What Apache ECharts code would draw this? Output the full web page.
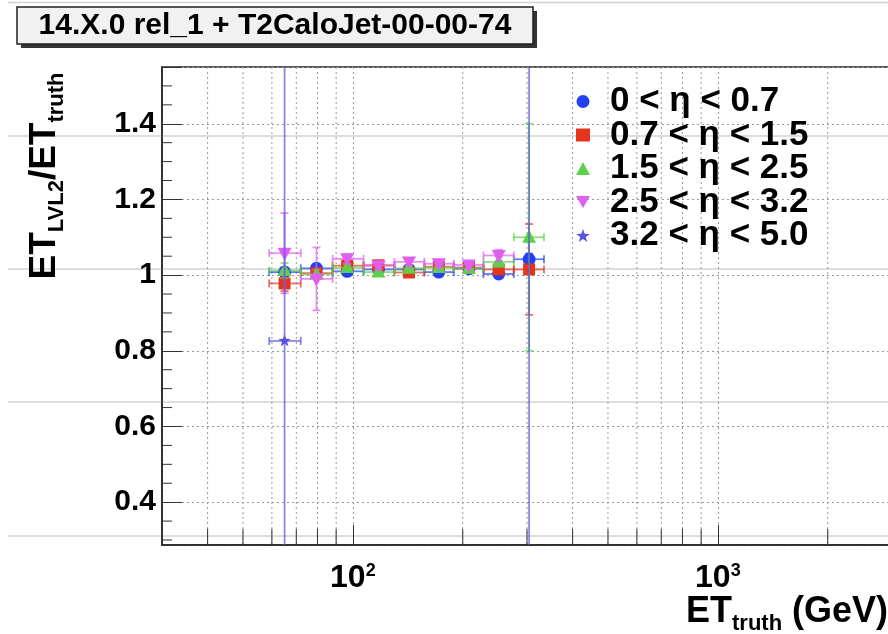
<!DOCTYPE html>
<html>
<head>
<meta charset="utf-8">
<title>ET LVL2 / ET truth</title>
<script src="https://cdn.jsdelivr.net/npm/echarts@6/dist/echarts.min.js"></script>
<style>
html,body{margin:0;padding:0;background:#fff;}
#main{width:888px;height:634px;}
</style>
</head>
<body>
<div id="main"></div>
<script>
// bins of ET_truth (GeV)
var binCenters = [65, 79.5, 96.5, 117.5, 142.5, 172, 208, 251, 304];
var binEdges = [59, 72, 88, 107, 130, 157, 189, 228, 276, 334];

var etaNames = ['0 < η < 0.7', '0.7 < η < 1.5', '1.5 < η < 2.5', '2.5 < η < 3.2', '3.2 < η < 5.0'];

// ET_LVL2 / ET_truth per eta bin, with y error
var eta1Y   = [1.008, 1.018, 1.010, 1.015, 1.015, 1.008, 1.017, 1.003, 1.042];
var eta1Err = [0.012, 0.010, 0.006, 0.005, 0.005, 0.005, 0.005, 0.007, 0.015];
var eta2Y   = [0.978, 1.005, 1.025, 1.026, 1.007, 1.022, 1.020, 1.015, 1.015];
var eta2Err = [0.020, 0.012, 0.008, 0.006, 0.006, 0.006, 0.007, 0.010, 0.120];
var eta3Y   = [1.012, 1.002, 1.020, 1.008, 1.018, 1.020, 1.018, 1.035, 1.100];
var eta3Err = [0.020, 0.012, 0.008, 0.006, 0.006, 0.006, 0.007, 0.012, 0.300];
var eta4Y   = [1.058, 0.990, 1.043, 1.025, 1.035, 1.030, 1.027, 1.052, null];
var eta4Err = [0.106, 0.083, 0.012, 0.008, 0.008, 0.008, 0.010, 0.015, null];
var eta5Y   = [0.826, null, null, null, null, null, null, null, 1.6];   // last one off scale
var eta5Err = [1.0, null, null, null, null, null, null, null, 1.4];

// axes
var xMinorTicks = [40, 50, 60, 70, 80, 90, 200, 300, 400, 500, 600, 700, 800, 900, 2000];
var yMinorTicks = [0.3, 0.35, 0.45, 0.5, 0.55, 0.65, 0.7, 0.75, 0.85, 0.9, 0.95,
                   1.05, 1.1, 1.15, 1.25, 1.3, 1.35, 1.45, 1.5];

var FONT = 'Liberation Sans';
var Y_MIN = 0.287, Y_MAX = 1.55;
var colors = ['#2340f5', '#e5341c', '#5cd24c', '#e05ef0', '#5656de'];
var shapes = ['circle', 'square', 'up', 'down', 'star'];

function starPts(cx, cy, R, r) {
  var p = [];
  for (var i = 0; i < 10; i++) {
    var a = -Math.PI / 2 + i * Math.PI / 5;
    var rr = i % 2 ? r : R;
    p.push([cx + rr * Math.cos(a), cy + rr * Math.sin(a)]);
  }
  return p;
}
var starIcon = 'path://' + starPts(10, 10, 10, 4).map(function (q, i) {
  return (i ? 'L' : 'M') + q[0].toFixed(2) + ',' + q[1].toFixed(2);
}).join('') + 'Z';
var icons = ['circle', 'rect', 'triangle', 'path://M0,0L14,0L7,12Z', starIcon];

function marker(shape, cx, cy, color) {
  var st = {fill: color};
  if (shape === 'circle') return {type: 'circle', shape: {cx: cx, cy: cy, r: 6.5}, style: st};
  if (shape === 'square') return {type: 'rect', shape: {x: cx - 6, y: cy - 6, width: 12, height: 12}, style: st};
  if (shape === 'up') return {type: 'polygon', shape: {points: [[cx, cy - 7.5], [cx + 7, cy + 5.5], [cx - 7, cy + 5.5]]}, style: st};
  if (shape === 'down') return {type: 'polygon', shape: {points: [[cx - 7, cy - 5.5], [cx + 7, cy - 5.5], [cx, cy + 7.5]]}, style: st};
  return {type: 'polygon', shape: {points: starPts(cx, cy, 6.5, 2.7)}, style: st};
}

function rows(ys, errs) {
  var out = [];
  for (var i = 0; i < ys.length; i++) {
    if (ys[i] == null) continue;
    out.push([binCenters[i], ys[i], binEdges[i], binEdges[i + 1], ys[i] - errs[i], ys[i] + errs[i]]);
  }
  return out;
}

function makeRender(k) {
  return function (params, api) {
    var x = api.value(0), y = api.value(1);
    var c = api.coord([x, y]);
    var l = api.coord([api.value(2), y]);
    var r = api.coord([api.value(3), y]);
    var lo = api.coord([x, api.value(4)]);
    var hi = api.coord([x, api.value(5)]);
    var ls = {stroke: colors[k], lineWidth: 1.8, opacity: 0.7};
    var cap = 4;
    var kids = [
      {type: 'line', shape: {x1: l[0], y1: c[1], x2: r[0], y2: c[1]}, style: ls},
      {type: 'line', shape: {x1: l[0], y1: c[1] - cap, x2: l[0], y2: c[1] + cap}, style: ls},
      {type: 'line', shape: {x1: r[0], y1: c[1] - cap, x2: r[0], y2: c[1] + cap}, style: ls},
      {type: 'line', shape: {x1: c[0], y1: lo[1], x2: c[0], y2: hi[1]}, style: ls},
      {type: 'line', shape: {x1: c[0] - cap, y1: lo[1], x2: c[0] + cap, y2: lo[1]}, style: ls},
      {type: 'line', shape: {x1: c[0] - cap, y1: hi[1], x2: c[0] + cap, y2: hi[1]}, style: ls},
      marker(shapes[k], c[0], c[1], colors[k])
    ];
    return {type: 'group', children: kids};
  };
}

var allY = [eta1Y, eta2Y, eta3Y, eta4Y, eta5Y];
var allErr = [eta1Err, eta2Err, eta3Err, eta4Err, eta5Err];

var series = [];
// minor x grid lines and ticks
series.push({
  type: 'custom', silent: true, z: 1,
  data: xMinorTicks.map(function (v) { return [v, 1]; }),
  renderItem: function (params, api) {
    var cs = params.coordSys;
    var x = api.coord([api.value(0), 1])[0];
    var b = cs.y + cs.height;
    return {type: 'group', children: [
      {type: 'line', shape: {x1: x, y1: cs.y, x2: x, y2: b}, style: {stroke: '#999', lineWidth: 1, lineDash: [2, 3]}},
      {type: 'line', shape: {x1: x, y1: b, x2: x, y2: b - 16}, style: {stroke: '#333', lineWidth: 1}}
    ]};
  }
});
// minor y ticks
series.push({
  type: 'custom', silent: true, z: 1,
  data: yMinorTicks.map(function (v) { return [100, v]; }),
  renderItem: function (params, api) {
    var cs = params.coordSys;
    var y = api.coord([100, api.value(1)])[1];
    return {type: 'line', shape: {x1: cs.x, y1: y, x2: cs.x + 10, y2: y}, style: {stroke: '#333', lineWidth: 1}};
  }
});
for (var k = 0; k < 5; k++) {
  series.push({
    name: etaNames[k], type: 'custom', clip: true, z: 3 + k,
    itemStyle: {color: colors[k]},
    encode: {x: 0, y: 1},
    data: rows(allY[k], allErr[k]),
    renderItem: makeRender(k)
  });
}

var pageLines = [2.5, 136, 269, 402, 536].map(function (y) {
  return {type: 'line', z: 0, silent: true, shape: {x1: 8, y1: y, x2: 888, y2: y}, style: {stroke: '#d2d2d2', lineWidth: 1.5}};
});

var chart = echarts.init(document.getElementById('main'), null, {renderer: 'canvas'});
chart.setOption({
  animation: false,
  backgroundColor: '#fff',
  color: colors,
  grid: {left: 162, top: 67, width: 730, height: (Y_MAX - Y_MIN) * 378.4,
         containLabel: false, outerBoundsMode: 'none',
         show: true, borderColor: '#222', borderWidth: 1.5, backgroundColor: 'transparent'},
  xAxis: {
    type: 'log', logBase: 10, min: 30, max: 3000,
    axisLine: {show: true, lineStyle: {color: '#222', width: 1.5}},
    axisTick: {show: true, inside: true, length: 20, lineStyle: {color: '#333'}},
    splitLine: {show: true, lineStyle: {color: '#999', width: 1, type: [2, 3]}},
    axisLabel: {
      margin: 17, color: '#000',
      formatter: function (v) {
        var lg = Math.log10(v);
        if (Math.abs(lg - Math.round(lg)) > 1e-6) return '';
        return '{a|10}{b|' + Math.round(lg) + '}';
      },
      rich: {
        a: {fontSize: 32, fontWeight: 'bold', fontFamily: FONT, color: '#000', lineHeight: 32, verticalAlign: 'bottom'},
        b: {fontSize: 18, fontWeight: 'bold', fontFamily: FONT, color: '#000', lineHeight: 18, verticalAlign: 'top'}
      }
    }
  },
  yAxis: {
    type: 'value', min: Y_MIN, max: Y_MAX, minInterval: 0.2, maxInterval: 0.2,
    axisLine: {show: true, lineStyle: {color: '#222', width: 1.5}},
    axisTick: {show: true, inside: true, length: 20, lineStyle: {color: '#333'}},
    splitLine: {show: true, lineStyle: {color: '#999', width: 1, type: [2, 3]}},
    axisLabel: {
      margin: 6, color: '#000', fontSize: 30, fontWeight: 'bold', fontFamily: FONT,
      formatter: function (v) {
        if (v < 0.35 || v > 1.45) return '';
        if (Math.abs(v * 5 - Math.round(v * 5)) > 1e-6) return '';
        return String(+v.toFixed(1));
      }
    }
  },
  legend: {
    orient: 'vertical', left: 571, top: 79, itemGap: -1.5, itemWidth: 14, itemHeight: 13,
    selectedMode: false,
    data: etaNames.map(function (n, i) { return {name: n, icon: icons[i]}; }),
    textStyle: {fontSize: 35, fontWeight: 'bold', fontFamily: FONT, color: '#000', lineHeight: 31, padding: [0, 0, 0, 15]}
  },
  graphic: pageLines.concat([
    {type: 'rect', z: 100, shape: {x: 21, y: 11, width: 516, height: 37}, style: {fill: '#333'}},
    {type: 'rect', z: 101, shape: {x: 17, y: 7, width: 516, height: 37}, style: {fill: '#f1f1f1', stroke: '#222', lineWidth: 1.5}},
    {type: 'text', z: 102, x: 275, y: 26,
     style: {text: '14.X.0 rel_1 + T2CaloJet-00-00-74', fill: '#000', fontSize: 30, fontWeight: 'bold', fontFamily: FONT,
             textAlign: 'center', textVerticalAlign: 'middle', align: 'center', verticalAlign: 'middle'}},
    {type: 'text', z: 102, x: 45, y: 176, rotation: Math.PI / 2,
     style: {text: '{b|ET}{s|LVL2}{b|/ET}{s|truth}', fill: '#000',
             textAlign: 'center', textVerticalAlign: 'middle', align: 'center', verticalAlign: 'middle',
             rich: {
               b: {fontSize: 37, fontWeight: 'bold', fontFamily: FONT, fill: '#000', lineHeight: 37, verticalAlign: 'top'},
               s: {fontSize: 22, fontWeight: 'bold', fontFamily: FONT, fill: '#000', lineHeight: 22, verticalAlign: 'top', padding: [19, 0, 0, 0]}
             }}},
    {type: 'text', z: 102, x: 686, y: 594,
     style: {text: '{b|ET}{s|truth}{b| (GeV)}', fill: '#000',
             textAlign: 'left', textVerticalAlign: 'top', align: 'left', verticalAlign: 'top',
             rich: {
               b: {fontSize: 36, fontWeight: 'bold', fontFamily: FONT, fill: '#000', lineHeight: 36, verticalAlign: 'top'},
               s: {fontSize: 22, fontWeight: 'bold', fontFamily: FONT, fill: '#000', lineHeight: 22, verticalAlign: 'top', padding: [19, 0, 0, 0]}
             }}}
  ]),
  series: series
});
</script>
</body>
</html>
